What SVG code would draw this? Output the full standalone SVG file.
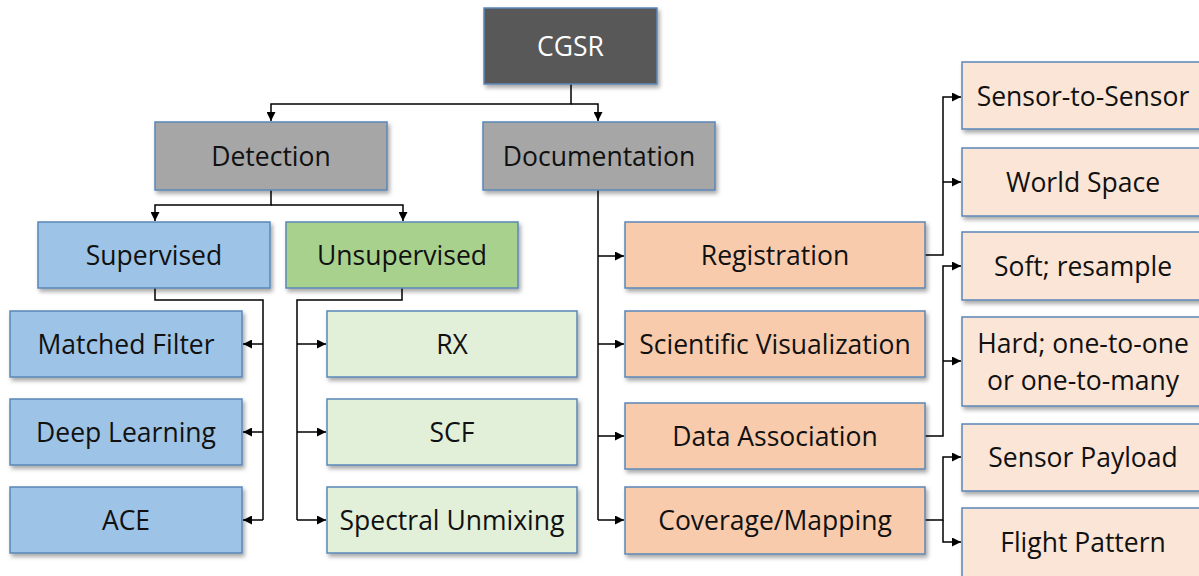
<svg xmlns="http://www.w3.org/2000/svg" width="1199" height="576" viewBox="0 0 1199 576">
  <defs>
    <filter id="shadow" x="-10%" y="-10%" width="125%" height="140%">
      <feDropShadow dx="2" dy="3" stdDeviation="2" flood-color="#000" flood-opacity="0.35"/>
    </filter>
    <marker id="arrow" viewBox="0 0 10 10" refX="10" refY="5" markerWidth="9" markerHeight="9" markerUnits="userSpaceOnUse" orient="auto">
      <path d="M0,0 L10,5 L0,10 z" fill="#000"/>
    </marker>
  </defs>
  <style>
    .box { stroke: #5b87b8; stroke-width: 1.5; filter: url(#shadow); }
    .lbl { font-family: "Open Sans", "Liberation Sans", sans-serif; font-size: 26.5px; fill: #111; text-anchor: middle; dominant-baseline: central; }
    .root { fill: #595959; }
    .grey { fill: #a6a6a6; }
    .blue { fill: #9dc3e6; }
    .green { fill: #a9d18e; }
    .lgreen { fill: #e2efd9; }
    .orange { fill: #f8cbad; }
    .peach { fill: #fbe5d6; }
    .wire { fill: none; stroke: #000; stroke-width: 1.5; }
  </style>
  <rect width="1199" height="576" fill="#fff"/>

  <!-- connectors -->
  <g id="connectors" class="wire">
    <polyline points="571,84 571,104 271,104 271,121" marker-end="url(#arrow)"/>
    <polyline points="571,104 598,104 598,121" marker-end="url(#arrow)"/>
    <polyline points="271,190 271,205 155,205 155,221" marker-end="url(#arrow)"/>
    <polyline points="271,205 403,205 403,221" marker-end="url(#arrow)"/>

    <polyline points="155,288 155,300 263,300 263,520"/>
    <line x1="263" y1="344" x2="243" y2="344" marker-end="url(#arrow)"/>
    <line x1="263" y1="432" x2="243" y2="432" marker-end="url(#arrow)"/>
    <line x1="263" y1="520" x2="243" y2="520" marker-end="url(#arrow)"/>

    <polyline points="402,288 402,300 297,300 297,520"/>
    <line x1="297" y1="344" x2="326" y2="344" marker-end="url(#arrow)"/>
    <line x1="297" y1="432" x2="326" y2="432" marker-end="url(#arrow)"/>
    <line x1="297" y1="520" x2="326" y2="520" marker-end="url(#arrow)"/>

    <line x1="598" y1="190" x2="598" y2="520"/>
    <line x1="598" y1="256" x2="624" y2="256" marker-end="url(#arrow)"/>
    <line x1="598" y1="344" x2="624" y2="344" marker-end="url(#arrow)"/>
    <line x1="598" y1="436" x2="624" y2="436" marker-end="url(#arrow)"/>
    <line x1="598" y1="520" x2="624" y2="520" marker-end="url(#arrow)"/>

    <polyline points="925,255 943,255 943,97 961,97" marker-end="url(#arrow)"/>
    <line x1="943" y1="182" x2="961" y2="182" marker-end="url(#arrow)"/>
    <polyline points="925,436 943,436 943,266 961,266" marker-end="url(#arrow)"/>
    <line x1="943" y1="361" x2="961" y2="361" marker-end="url(#arrow)"/>
    <polyline points="925,520 943,520 943,457 961,457" marker-end="url(#arrow)"/>
    <polyline points="943,520 943,542 961,542" marker-end="url(#arrow)"/>
  </g>

  <g id="cgsr"><rect class="box root" x="484" y="8" width="173" height="76"/><text class="lbl" x="570.5" y="46" style="fill:#fff">CGSR</text></g>
  <g id="detection"><rect class="box grey" x="155" y="122" width="232" height="68"/><text class="lbl" x="271" y="156">Detection</text></g>
  <g id="documentation"><rect class="box grey" x="483" y="122" width="232" height="68"/><text class="lbl" x="599" y="156">Documentation</text></g>

  <g id="supervised"><rect class="box blue" x="38" y="222" width="232" height="66"/><text class="lbl" x="154" y="255">Supervised</text></g>
  <g id="unsupervised"><rect class="box green" x="286" y="222" width="232" height="66"/><text class="lbl" x="402" y="255">Unsupervised</text></g>

  <g id="matched-filter"><rect class="box blue" x="10" y="311" width="232" height="66"/><text class="lbl" x="126" y="344">Matched Filter</text></g>
  <g id="deep-learning"><rect class="box blue" x="10" y="399" width="232" height="66"/><text class="lbl" x="126" y="432">Deep Learning</text></g>
  <g id="ace"><rect class="box blue" x="10" y="487" width="232" height="66"/><text class="lbl" x="126" y="520">ACE</text></g>

  <g id="rx"><rect class="box lgreen" x="327" y="311" width="250" height="66"/><text class="lbl" x="452" y="344">RX</text></g>
  <g id="scf"><rect class="box lgreen" x="327" y="399" width="250" height="66"/><text class="lbl" x="452" y="432">SCF</text></g>
  <g id="spectral-unmixing"><rect class="box lgreen" x="327" y="487" width="250" height="66"/><text class="lbl" x="452" y="520">Spectral Unmixing</text></g>

  <g id="registration"><rect class="box orange" x="625" y="222" width="300" height="66"/><text class="lbl" x="775" y="255">Registration</text></g>
  <g id="scientific-visualization"><rect class="box orange" x="625" y="311" width="300" height="66"/><text class="lbl" x="775" y="344">Scientific Visualization</text></g>
  <g id="data-association"><rect class="box orange" x="625" y="403" width="300" height="66"/><text class="lbl" x="775" y="436">Data Association</text></g>
  <g id="coverage-mapping"><rect class="box orange" x="625" y="487" width="300" height="67"/><text class="lbl" x="775" y="520">Coverage/Mapping</text></g>

  <g id="sensor-to-sensor"><rect class="box peach" x="962" y="62" width="243" height="67"/><text class="lbl" x="1083" y="96">Sensor-to-Sensor</text></g>
  <g id="world-space"><rect class="box peach" x="962" y="148" width="243" height="68"/><text class="lbl" x="1083" y="182">World Space</text></g>
  <g id="soft-resample"><rect class="box peach" x="962" y="232" width="243" height="68"/><text class="lbl" x="1083" y="266">Soft; resample</text></g>
  <g id="hard"><rect class="box peach" x="962" y="317" width="243" height="89"/><text class="lbl" x="1083" y="343">Hard; one-to-one</text><text class="lbl" x="1083" y="380">or one-to-many</text></g>
  <g id="sensor-payload"><rect class="box peach" x="962" y="424" width="243" height="67"/><text class="lbl" x="1083" y="457">Sensor Payload</text></g>
  <g id="flight-pattern"><rect class="box peach" x="962" y="508" width="243" height="70"/><text class="lbl" x="1083" y="542">Flight Pattern</text></g>
</svg>
